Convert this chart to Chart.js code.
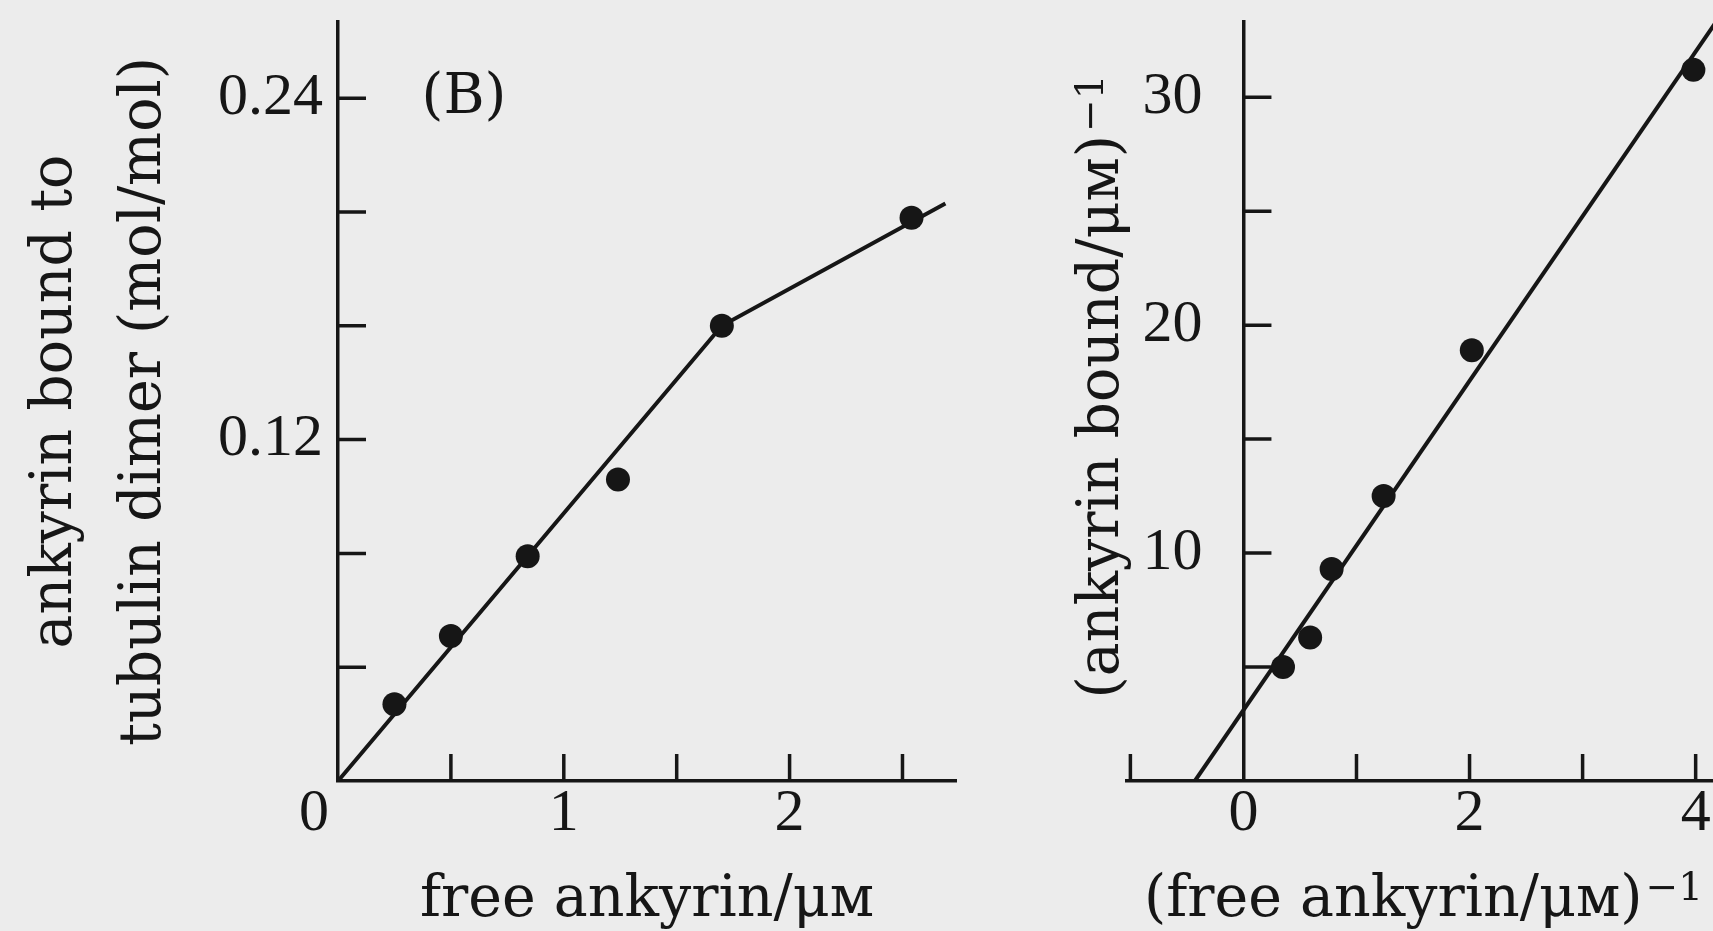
<!DOCTYPE html>
<html>
<head>
<meta charset="utf-8">
<script src="https://cdn.jsdelivr.net/npm/chart.js@4.4.1/dist/chart.umd.min.js"></script>
<style>
    html, body { margin: 0; padding: 0; background: #ececec; overflow: hidden; }
    #panelB { position: absolute; left: 0; top: 0; }
    #caja { position: absolute; left: 1000px; top: 0; width: 713px; height: 931px; overflow: hidden; }
</style>
</head>
<body>
<canvas id="panelB" width="1000" height="931"></canvas>
<div id="caja"><canvas id="reciproco" width="728" height="931"></canvas></div>
<script>
// Datos: panel (B) y su gráfico de dobles recíprocos
const libre = [0.25, 0.50, 0.84, 1.24, 1.70, 2.54];
const unida = [0.027, 0.051, 0.079, 0.106, 0.160, 0.198];
const ajusteX = [0, 1.70, 2.69];
const ajusteY = [0, 0.160, 0.203];

const libreInv = [0.35, 0.59, 0.78, 1.24, 2.02, 3.98];
const unidaInv = [5.0, 6.3, 9.3, 12.5, 18.9, 31.2];
const ajusteInvX = [-0.43, 4.18];
const ajusteInvY = [0, 33.3];

// marcas y etiquetas de los ejes
const ticksXB = [0, 0.5, 1, 1.5, 2, 2.5];
const etiquetasXB = [1, 2];
const ticksYB = [0, 0.04, 0.08, 0.12, 0.16, 0.20, 0.24];
const etiquetasYB = [0.12, 0.24];
const ticksXR = [-1, 0, 1, 2, 3, 4];
const etiquetasXR = [0, 2, 4];
const ticksYR = [0, 5, 10, 15, 20, 25, 30];
const etiquetasYR = [10, 20, 30];

const TINTA = '#161616';
const SERIF = "'DejaVu Serif', serif";
const NUM = "'Liberation Serif', serif";

function puntos(xs, ys) {
    return xs.map((x, i) => ({x: x, y: ys[i]}));
}

function datasets(xs, ys, lx, ly) {
    return [
        { data: puntos(lx, ly), showLine: true, borderColor: TINTA, borderWidth: 4, pointRadius: 0, order: 2 },
        { data: puntos(xs, ys), backgroundColor: TINTA, borderWidth: 0, pointRadius: 12, order: 1 }
    ];
}

function fijarTicks(valores) {
    return function (scale) {
        scale.ticks = valores.map(v => ({value: v}));
    };
}

function ajustar(ancho, alto) {
    return function (scale) {
        if (ancho !== null) scale.width = ancho;
        if (alto !== null) scale.height = alto;
        scale.paddingLeft = 0;
        scale.paddingRight = 0;
        scale.paddingTop = 0;
        scale.paddingBottom = 0;
    };
}

// texto con exponente "−1" más pequeño y elevado, centrado en (cx, cy)
function textoExponente(ctx, base, exp, cx, cy) {
    ctx.font = '57px ' + SERIF;
    const wb = ctx.measureText(base).width;
    ctx.font = '39px ' + SERIF;
    const we = ctx.measureText(exp).width;
    const x0 = cx - (wb + 3 + we) / 2;
    ctx.textAlign = 'left';
    ctx.textBaseline = 'middle';
    ctx.font = '57px ' + SERIF;
    ctx.fillText(base, x0, cy);
    ctx.font = '39px ' + SERIF;
    ctx.fillText(exp, x0 + wb + 3, cy - 11);
}

// Dibuja las marcas hacia dentro de los ejes y los textos sueltos
function pluginMarcas(marcasX, marcasY, textos) {
    return {
        id: 'marcas',
        afterDraw(chart) {
            const ctx = chart.ctx;
            const sx = chart.scales.x, sy = chart.scales.y;
            const ejeY = sx.getPixelForValue(0);
            const ejeX = sy.getPixelForValue(0);
            ctx.save();
            ctx.strokeStyle = TINTA;
            ctx.lineWidth = 3.5;
            ctx.beginPath();
            marcasX.forEach(v => {
                if (v === 0) return;
                const px = sx.getPixelForValue(v);
                ctx.moveTo(px, ejeX);
                ctx.lineTo(px, ejeX - 27);
            });
            marcasY.forEach(v => {
                if (v === 0) return;
                const py = sy.getPixelForValue(v);
                ctx.moveTo(ejeY, py);
                ctx.lineTo(ejeY + 28, py);
            });
            ctx.stroke();
            ctx.fillStyle = TINTA;
            textos(chart, ctx, ejeY, ejeX);
            ctx.restore();
        }
    };
}

function ejeX(min, max, ticks, etiquetas, titulo) {
    return {
        type: 'linear', position: 'bottom', min: min, max: max,
        afterBuildTicks: fijarTicks(ticks),
        afterFit: ajustar(null, 150),
        grid: { drawOnChartArea: false, drawTicks: false },
        border: { color: TINTA, width: 3.5 },
        ticks: {
            autoSkip: false, maxRotation: 0, padding: 3, color: TINTA,
            font: { family: NUM, size: 60, lineHeight: 1 },
            callback: v => etiquetas.includes(v) ? String(v) : ''
        },
        title: { display: titulo !== null, text: titulo || '', color: TINTA, padding: 0,
                 font: { family: SERIF, size: 57, lineHeight: 1.05 } }
    };
}

// Panel (B): ankyrin unida frente a ankyrin libre
new Chart(document.getElementById('panelB'), {
    type: 'scatter',
    data: { datasets: datasets(libre, unida, ajusteX, ajusteY) },
    options: {
        responsive: false,
        animation: false,
        layout: { padding: { left: 0, top: 22, right: 44, bottom: 0 } },
        plugins: { legend: { display: false }, tooltip: { enabled: false } },
        scales: {
            x: ejeX(0, 2.737, ticksXB, etiquetasXB, 'free ankyrin/μᴍ'),
            y: {
                type: 'linear', position: 'left', min: 0, max: 0.2668,
                afterBuildTicks: fijarTicks(ticksYB),
                afterFit: ajustar(338, null),
                grid: { drawOnChartArea: false, drawTicks: false },
                border: { color: TINTA, width: 3.5 },
                ticks: {
                    padding: 15, color: TINTA,
                    font: { family: NUM, size: 60 },
                    callback: v => etiquetasYB.includes(v) ? v.toFixed(2) : ''
                },
                title: {
                    display: true, color: TINTA,
                    text: ['ankyrin bound to', 'tubulin dimer (mol/mol)'],
                    font: { family: SERIF, size: 57, lineHeight: 1.56 },
                    padding: { top: 12, bottom: 0 }
                }
            }
        }
    },
    plugins: [pluginMarcas(ticksXB, ticksYB, function (chart, ctx, ejeY, ejeXpx) {
        ctx.textAlign = 'center';
        ctx.textBaseline = 'middle';
        ctx.font = '60px ' + NUM;
        ctx.fillText('0', ejeY - 24, ejeXpx + 33);
        ctx.font = '56px ' + SERIF;
        ctx.fillText('(B)', ejeY + 126, chart.scales.y.getPixelForValue(0.24));
    })]
});

// Dobles recíprocos
new Chart(document.getElementById('reciproco'), {
    type: 'scatter',
    data: { datasets: datasets(libreInv, unidaInv, ajusteInvX, ajusteInvY) },
    options: {
        responsive: false,
        animation: false,
        layout: { padding: { left: 127, top: 22, right: 0, bottom: 0 } },
        plugins: { legend: { display: false }, tooltip: { enabled: false } },
        scales: {
            x: ejeX(-1.03, 4.18, ticksXR, etiquetasXR, null),
            y: {
                type: 'linear', position: { x: 0 }, min: 0, max: 33.3,
                afterBuildTicks: fijarTicks(ticksYR),
                afterFit: ajustar(null, null),
                grid: { drawOnChartArea: false, drawTicks: false },
                border: { color: TINTA, width: 3.5 },
                ticks: { display: false }
            }
        }
    },
    plugins: [pluginMarcas(ticksXR, ticksYR, function (chart, ctx, ejeY, ejeXpx) {
        const sy = chart.scales.y;
        const area = chart.chartArea;
        ctx.textAlign = 'right';
        ctx.textBaseline = 'middle';
        ctx.font = '60px ' + NUM;
        etiquetasYR.forEach(v => ctx.fillText(String(v), ejeY - 41, sy.getPixelForValue(v)));
        // título del eje x
        textoExponente(ctx, '(free ankyrin/μᴍ)', '−1', (area.left + area.right) / 2 + 2, chart.height - 30);
        // título del eje y, girado
        ctx.translate(ejeY - 140, (area.top + area.bottom) / 2 - 15);
        ctx.rotate(-Math.PI / 2);
        textoExponente(ctx, '(ankyrin bound/μᴍ)', '−1', 0, 0);
    })]
});
</script>
</body>
</html>
